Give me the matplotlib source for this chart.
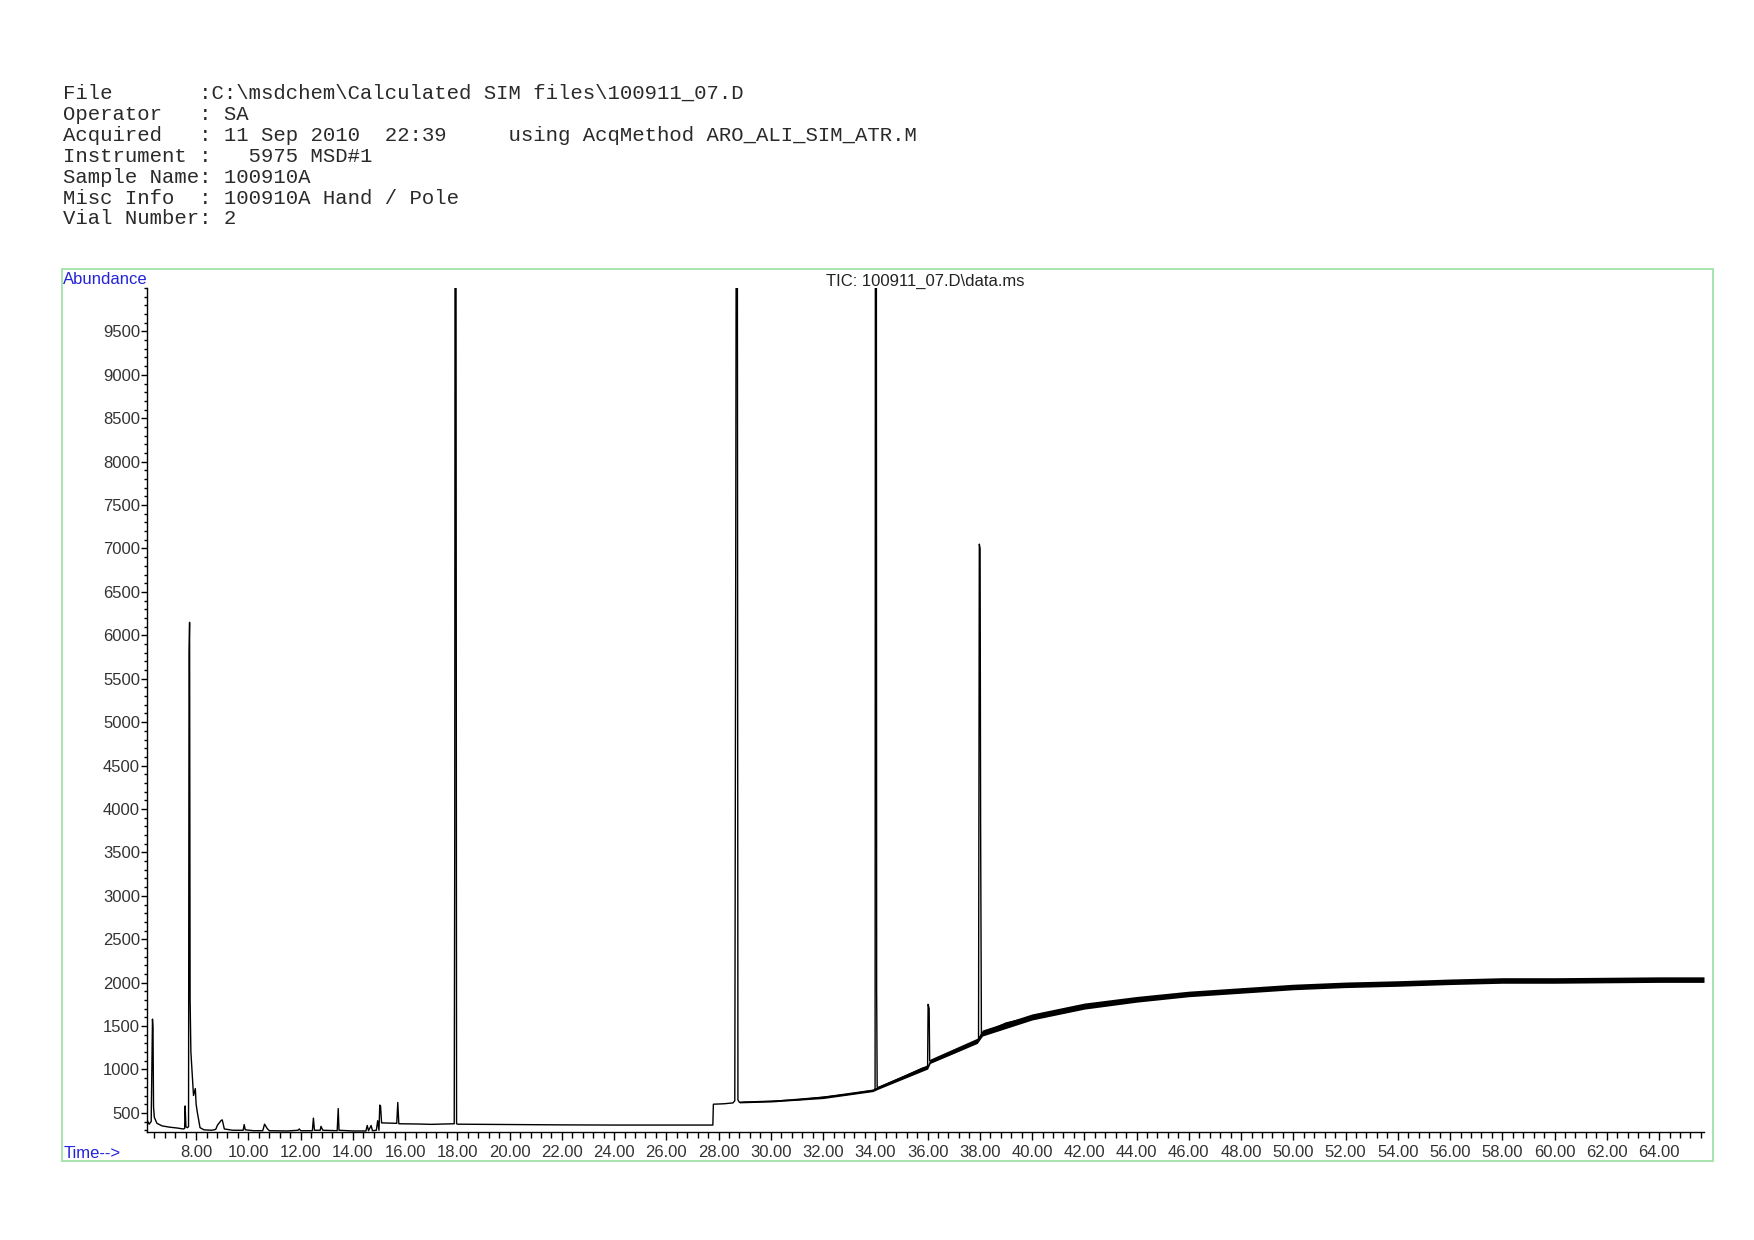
import matplotlib
matplotlib.use("Agg")
import matplotlib.pyplot as plt
from matplotlib.patches import Rectangle
from matplotlib.ticker import MultipleLocator, FormatStrFormatter

# ---- header text (report block) ----
header_lines = [
    "File       :C:\\msdchem\\Calculated SIM files\\100911_07.D",
    "Operator   : SA",
    "Acquired   : 11 Sep 2010  22:39     using AcqMethod ARO_ALI_SIM_ATR.M",
    "Instrument :   5975 MSD#1",
    "Sample Name: 100910A",
    "Misc Info  : 100910A Hand / Pole",
    "Vial Number: 2",
]
chart_title = "TIC: 100911_07.D\\data.ms"

# ---- TIC trace (retention time in min, abundance) ----
rt = [6.12, 6.20, 6.28, 6.33, 6.35, 6.37, 6.40, 6.50, 6.70, 7.00, 7.30, 7.50,
      7.56, 7.58, 7.61, 7.66, 7.71, 7.73, 7.75, 7.77, 7.80, 7.90, 7.97, 8.00,
      8.05, 8.15, 8.30, 8.60, 8.75, 8.82, 8.95, 9.00, 9.08, 9.40, 9.80, 9.84,
      9.88, 10.20, 10.55, 10.62, 10.72, 10.80, 11.50, 11.90, 11.95, 12.00,
      12.45, 12.49, 12.53, 12.75, 12.78, 12.85, 13.40, 13.44, 13.47, 14.00,
      14.50, 14.55, 14.60, 14.70, 14.75, 14.90, 14.95, 15.00, 15.03, 15.06,
      15.10, 15.68, 15.72, 15.76, 16.50, 17.00, 17.88, 17.90, 17.91, 17.95,
      17.97, 18.00, 19.00, 20.00, 22.00, 24.00, 26.00, 27.78, 27.80, 28.20,
      28.55, 28.62, 28.65, 28.67, 28.72, 28.74, 28.80, 29.00, 30.00, 31.00,
      32.00, 33.00, 33.95, 33.99, 34.00, 34.04, 34.05, 34.07, 34.10, 35.00,
      35.80, 36.00, 36.02, 36.06, 36.08, 36.20, 37.00, 37.90, 37.95, 37.98,
      38.01, 38.03, 38.06, 38.15, 39.00, 40.00, 41.00, 42.00, 43.00, 44.00,
      46.00, 48.00, 50.00, 52.00, 54.00, 56.00, 58.00, 60.00, 62.00, 64.00,
      65.72]
abundance = [420, 370, 400, 1580, 1480, 570, 450, 380, 350, 335, 325, 315,
             320, 580, 340, 330, 340, 5800, 6150, 1800, 1200, 700, 780, 600,
             500, 330, 305, 300, 310, 360, 410, 420, 315, 300, 300, 365,
             305, 295, 295, 370, 320, 295, 292, 300, 315, 295,
             295, 440, 300, 300, 345, 300, 295, 550, 300, 292,
             292, 355, 295, 355, 295, 300, 410, 300, 590, 580,
             385, 380, 620, 375, 372, 368, 375, 3650, 10000, 10000,
             375, 370, 368, 365, 362, 360, 360, 360, 600, 605,
             615, 640, 5750, 10000, 10000, 650, 620, 625, 635, 650,
             680, 715, 760, 780, 10000, 10000, 1900, 800, 790, 905,
             1015, 1030, 1750, 1700, 1100, 1095, 1190, 1330, 1350, 7050,
             7000, 3800, 1400, 1420, 1535, 1605, 1680, 1730, 1770, 1808,
             1870, 1910, 1950, 1975, 1990, 2010, 2025, 2025, 2030, 2035,
             2035]

# noise envelope of the rising baseline (lower / upper edge of the jagged band)
band_t = [28.8, 30, 32, 33.9, 34.1, 36.0, 36.1, 37.9, 38.1, 40, 42, 44, 46,
          48, 50, 52, 54, 56, 58, 60, 62, 64, 65.72]
band_lo = [615, 625, 665, 745, 772, 1005, 1070, 1300, 1385, 1570, 1695, 1775,
           1838, 1878, 1918, 1943, 1958, 1978, 1993, 1993, 1998, 2003, 2003]
band_hi = [635, 645, 695, 775, 808, 1055, 1120, 1360, 1455, 1640, 1765, 1841,
           1902, 1942, 1982, 2007, 2022, 2042, 2057, 2057, 2062, 2067, 2067]

y_major = list(range(500, 10000, 500))
x_major = list(range(8, 66, 2))

# ---- figure ----
W, H = 1754, 1240
fig = plt.figure(figsize=(W / 100, H / 100), dpi=100)

def fx(px):
    return px / W

def fy(py):
    return 1 - py / H

# header block
for i, line in enumerate(header_lines):
    fig.text(fx(62.6), fy(93.5 + i * 20.9), line, family="Liberation Mono",
             fontsize=14.9, color="#2a2a2a", va="center", ha="left")

# green frame around the plot
fig.add_artist(Rectangle((fx(62), fy(1161)), fx(1712.6) - fx(62), fy(269) - fy(1161),
                         transform=fig.transFigure, fill=False,
                         edgecolor="#9fe3a6", lw=1.3))

ax = fig.add_axes([fx(147), fy(1132), fx(1704) - fx(147), fy(288) - fy(1132)])
ax.fill_between(band_t, band_lo, band_hi, color="black", lw=0)
ax.plot(rt, abundance, color="black", lw=1.0)

ax.set_xlim(6.12, 65.72)
ax.set_ylim(280, 10000)

for s in ["top", "right"]:
    ax.spines[s].set_visible(False)
for s in ["left", "bottom"]:
    ax.spines[s].set_linewidth(1.0)

ax.set_yticks(y_major)
ax.yaxis.set_minor_locator(MultipleLocator(100))
ax.set_xticks(x_major)
ax.xaxis.set_minor_locator(MultipleLocator(0.4))
ax.xaxis.set_major_formatter(FormatStrFormatter("%.2f"))

ax.tick_params(axis="y", which="major", length=4, width=1, pad=1,
               labelsize=12, labelcolor="#333333")
ax.tick_params(axis="y", which="minor", length=2.5, width=1)
ax.tick_params(axis="x", which="major", length=6, width=1, pad=3.5,
               labelsize=12, labelcolor="#333333")
ax.tick_params(axis="x", which="minor", length=4, width=1)
for lab in ax.get_xticklabels() + ax.get_yticklabels():
    lab.set_family("Liberation Sans")

fig.text(fx(63), fy(280), "Abundance", family="Liberation Sans", fontsize=12,
         color="#2323d8", ha="left", va="center")
fig.text(fx(64), fy(1154), "Time-->", family="Liberation Sans", fontsize=12,
         color="#2323d8", ha="left", va="center")
fig.text(fx(925), fy(281), chart_title, family="Liberation Sans", fontsize=12,
         color="#222222", ha="center", va="center")

fig.savefig("out.png", dpi=100)
